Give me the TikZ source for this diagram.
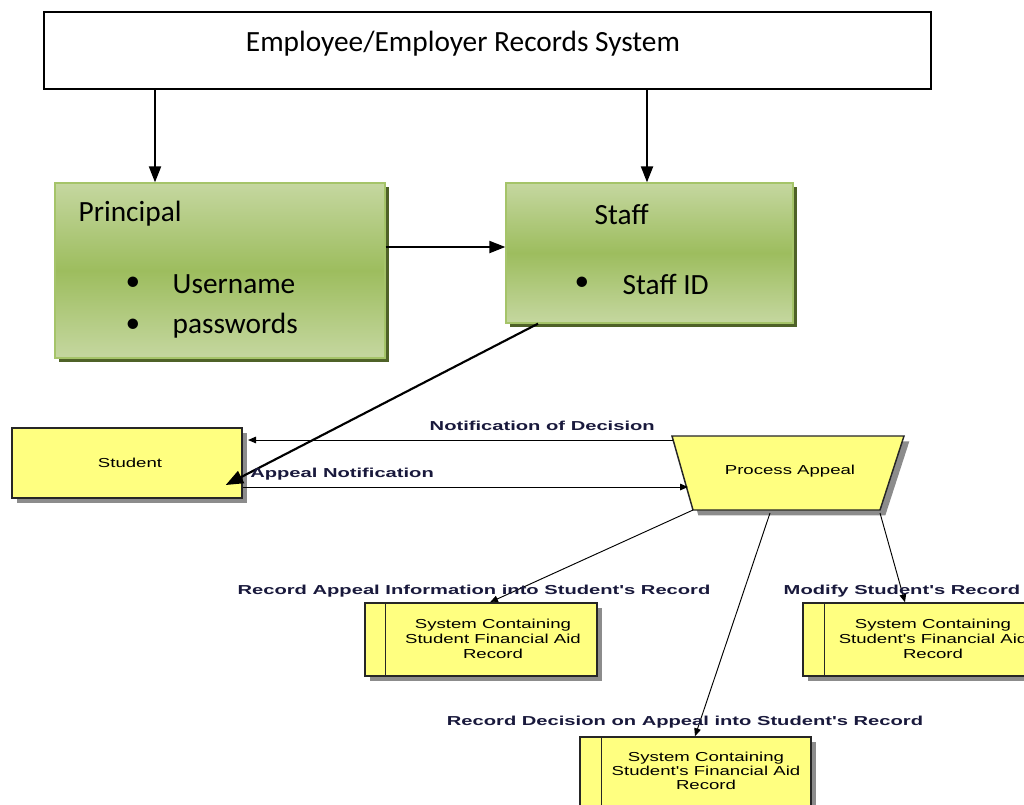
\documentclass[tikz,border=0pt]{standalone}
\usepackage{fontspec}
\setmainfont{Carlito}
\newfontfamily\arialn[FakeStretch=1.43]{Liberation Sans}
\newfontfamily\arialb[FakeStretch=1.55]{Liberation Sans}
\usetikzlibrary{arrows.meta,fit,shadows}
\definecolor{yel}{RGB}{255,255,128}
\definecolor{glight}{RGB}{197,215,160}
\definecolor{gmid}{RGB}{157,189,94}
\definecolor{gborder}{RGB}{165,196,105}
\definecolor{gshadow}{RGB}{79,98,40}
\definecolor{lbl}{RGB}{25,25,60}
\definecolor{shad}{RGB}{140,140,140}
\begin{document}
\begin{tikzpicture}[x=0.75pt,y=-0.75pt,
  big/.style={font=\fontsize{22}{26}\selectfont},
  small/.style={font=\arialn\fontsize{9.75}{11}\selectfont, align=center},
  lab/.style={font=\arialb\bfseries\fontsize{9.75}{11}\selectfont, text=lbl, inner sep=0pt},
  gbox/.style={inner sep=0pt, draw=gborder, line width=1pt,
    top color=glight, bottom color=glight, middle color=gmid,
    general shadow={fill=gshadow, shadow xshift=3pt, shadow yshift=-3pt}},
  ybox/.style={inner sep=0pt, draw=black!85, line width=1.1pt, fill=yel,
    general shadow={fill=shad, shadow xshift=3.5pt, shadow yshift=-3.5pt}},
  thickarr/.style={line width=1.6pt, -{Triangle[length=12pt,width=9pt]}},
  thinarr/.style={line width=0.7pt, -{Triangle[length=6pt,width=5pt]}}
]
\clip (0,0) rectangle (1024,804);
\fill[white] (0,0) rectangle (1024,804);

% top box
\node[fit={(44,12) (931,89)}, inner sep=0pt, draw=black, line width=1pt] (top) {};
\node[big] (toptext) at (463,44) {Employee/Employer Records System};

% green boxes
\node[gbox, fit={(55,183) (385,358)}] (prin) {};
\node[big, anchor=west] (prinT) at (74,214) {Principal};
\node[big] (b1dot) at (133,284) {\textbullet};
\node[big, anchor=west] (user) at (168,284) {Username};
\node[big] (b2dot) at (133,326) {\textbullet};
\node[big, anchor=west] (pass) at (168,326) {passwords};

\node[gbox, fit={(506,183) (793,323)}] (staff) {};
\node[big, anchor=west] (staffT) at (590,214) {Staff};
\node[big] (b3dot) at (582,284) {\textbullet};
\node[big, anchor=west] (sid) at (618,284) {Staff ID};

% arrows top
\draw[thickarr] (155,0 |- top.south) -- (155,0 |- prin.north);
\draw[thickarr] (647,0 |- top.south) -- (647,0 |- staff.north);
\draw[thickarr] (prin.east |- 0,247) -- (staff.west |- 0,247);

% student
\node[ybox, fit={(12,428) (242,498)}] (student) {};
\node[small] (studT) at (130,463) {Student};

% process appeal trapezoid
\coordinate (patl) at (672,436);
\coordinate (patr) at (904,436);
\coordinate (pabr) at (880,510);
\coordinate (pabl) at (693,510);
\fill[shad] ([shift={(4pt,-4pt)}]patl) -- ([shift={(4pt,-4pt)}]patr) -- ([shift={(4pt,-4pt)}]pabr) -- ([shift={(4pt,-4pt)}]pabl) -- cycle;
\draw[fill=yel, draw=black!85, line width=1.1pt] (patl) -- (patr) -- (pabr) -- (pabl) -- cycle;
\node[small] (pa) at (790,471) {Process Appeal};

% record boxes
\node[ybox, fit={(365,603) (597,676)}] (r1) {};
\draw[black!85, line width=1.1pt] ([xshift=15.75pt]r1.north west) -- ([xshift=15.75pt]r1.south west);
\node[small] (r1T) at (493,639) {System Containing\\Student Financial Aid\\Record};

\node[ybox, fit={(803,603) (1042,676)}] (r2) {};
\draw[black!85, line width=1.1pt] ([xshift=16.5pt]r2.north west) -- ([xshift=16.5pt]r2.south west);
\node[small] (r2T) at (933,639) {System Containing\\Student's Financial Aid\\Record};

\node[ybox, fit={(580,737) (811,812)}] (r3) {};
\draw[black!85, line width=1.1pt] ([xshift=16.5pt]r3.north west) -- ([xshift=16.5pt]r3.south west);
\node[small, font=\arialn\fontsize{9.75}{10.3}\selectfont] (r3T) at (706,771) {System Containing\\Student's Financial Aid\\Record};

% connectors lower
\coordinate (nd) at (673,440);
\coordinate (ain) at (688,487);
\draw[thinarr] (nd) -- ([xshift=4pt]nd -| student.east);
\draw[thinarr] (student.east |- ain) -- (ain);
\draw[line width=1.6pt, -{Triangle[length=13pt,width=10pt]}] (538,0 |- staff.south) -- ([xshift=-12.75pt,yshift=-16.5pt]student.east);
\coordinate (pb2) at (770,513);
\coordinate (pb3) at (880,513);
\draw[thinarr] (pabl) -- (490,0 |- r1.north);
\draw[thinarr] (pb2) -- (695,0 |- r3.north);
\draw[thinarr] (pb3) -- (905,0 |- r2.north);

% labels
\node[lab, anchor=east] (l1) at (655,426) {Notification of Decision};
\node[lab, anchor=west] (l2) at (250,474) {Appeal Notification};
\node[lab] (l3) at (474,591) {Record Appeal Information into Student's Record};
\node[lab] (l4) at (902,591) {Modify Student's Record};
\node[lab] (l5) at (685,722) {Record Decision on Appeal into Student's Record};
\end{tikzpicture}
\end{document}
